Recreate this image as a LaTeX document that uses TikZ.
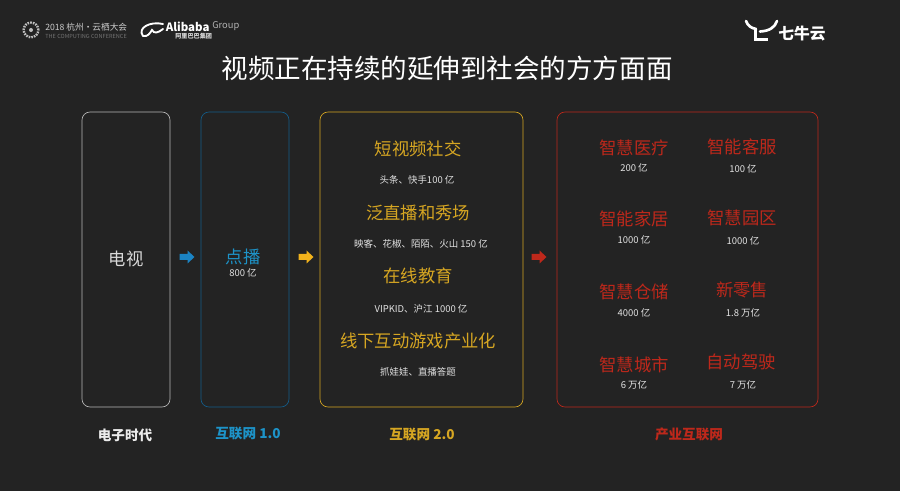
\documentclass[tikz,border=0pt]{standalone}
\usepackage{fontspec}
\setmainfont{Noto Sans CJK SC}
\definecolor{bgc}{HTML}{232323}
\definecolor{bluec}{HTML}{1B84C4}
\definecolor{cyanc}{HTML}{1D93C8}
\definecolor{yelc}{HTML}{D6A622}
\definecolor{arrowy}{HTML}{F2B31C}
\definecolor{redc}{HTML}{BE281B}
\definecolor{txtc}{HTML}{E2E2E2}
\tikzset{
  panel/.style={draw=#1,rounded corners=6pt,line width=0.5pt,fill=none},
  big/.style={text=#1,font=\fontsize{13}{15}\selectfont,inner sep=0pt},
  small/.style={text=txtc,font=\fontsize{7.1}{8}\selectfont,inner sep=0pt},
  era/.style={text=#1,font=\bfseries\fontsize{10.2}{12}\selectfont,inner sep=0pt},
  logo/.style={text=#1,inner sep=0pt},
  pics/flowarrow/.style={code={
    \fill[#1] (-7.5,-3) -- (0.5,-3) -- (0.5,-6.5) -- (7.5,0) -- (0.5,6.5) -- (0.5,3) -- (-7.5,3) -- cycle;
  }}
}
\begin{document}
\begin{tikzpicture}[x=0.75pt,y=-0.75pt]
\useasboundingbox (0,0) rectangle (900,491);
\fill[bgc] (0,0) rectangle (900,491);
% header logos
\node[draw=white!75!black,dashed,dash pattern=on 1.2pt off 0.8pt,circle,line width=1.8pt,minimum size=11pt,inner sep=0pt] (conf) at (31,30) {};
\node[fill=white!75!black,circle,minimum size=3pt,inner sep=0pt] (confc) at (31,30) {};
\node[logo=white!80!black,font=\fontsize{6.5}{7}\selectfont,anchor=west] (conft) at (45,27.5) {2018 杭州·云栖大会};
\node[logo=white!45!black,font=\fontsize{4.2}{5}\selectfont,anchor=west] (confs) at (45,36) {THE COMPUTING CONFERENCE};
\draw[white,line width=1.4pt,line cap=round] (143,36) .. controls (137,28) and (150,21) .. (163,24);
\draw[white,line width=1.4pt,line cap=round] (143,36) .. controls (148,37) and (150,33) .. (152,30) .. controls (154,34) and (158,33) .. (163,29);
\node[logo=white,font=\bfseries\fontsize{8.6}{9}\selectfont,anchor=west] (ali) at (165.5,26.5) {Alibaba};
\node[logo=white!70!black,font=\fontsize{7}{9}\selectfont,anchor=west] (grp) at (212,26.5) {Group};
\node[logo=white!85!black,font=\bfseries\fontsize{4.6}{5}\selectfont,anchor=west] (alic) at (175,36) {阿里巴巴集团};
% qiniu logo
\draw[white,line width=2pt,line cap=round] (746,21) .. controls (748,26) and (751,28) .. (756,29);
\draw[white,line width=2pt,line cap=round] (777,21) .. controls (775,27) and (770,31) .. (760,31.5);
\draw[white,line width=2.6pt] (755.5,28) -- (755.5,39.5) -- (768,39.5);
\node[logo=white,font=\bfseries\fontsize{11.8}{13}\selectfont] (qn) at (802,34) {七牛云};
% title
\node[text=white,font=\fontsize{19.9}{22}\selectfont,inner sep=0pt] (title) at (447,68) {视频正在持续的延伸到社会的方方面面};
% panels
\draw[panel=white!72!black] (82,112) rectangle (170,407);
\draw[panel=bluec!70!black] (201,112) rectangle (289,407);
\draw[panel=yelc] (320,112) rectangle (523,407);
\draw[panel=redc] (557,112) rectangle (818,407);
% arrows
\pic at (187,257) {flowarrow=bluec};
\pic at (306,257) {flowarrow=arrowy};
\pic at (539,257) {flowarrow=redc};
% panel 1, 2
\node[big=white!85!black] (tv) at (126,259) {电视};
\node[big=cyanc] (db) at (243,257) {点播};
\node[small] (dbs) at (243,273) {800 亿};
% panel 3
\node[big=yelc] (y1) at (418,149) {短视频社交};
\node[small] (y1s) at (417,180) {头条、快手100 亿};
\node[big=yelc] (y2) at (418,213) {泛直播和秀场};
\node[small] (y2s) at (421,244) {映客、花椒、陌陌、火山 150 亿};
\node[big=yelc] (y3) at (418,276) {在线教育};
\node[small] (y3s) at (421,309) {VIPKID、沪江 1000 亿};
\node[big=yelc] (y4) at (418,341) {线下互动游戏产业化};
\node[small] (y4s) at (418,372) {抓娃娃、直播答题};
% panel 4
\node[big=redc] (r1) at (634,148) {智慧医疗};
\node[small] (r1s) at (634,168) {200 亿};
\node[big=redc] (r2) at (742,147) {智能客服};
\node[small] (r2s) at (743,169) {100 亿};
\node[big=redc] (r3) at (634,219) {智能家居};
\node[small] (r3s) at (634,240) {1000 亿};
\node[big=redc] (r4) at (742,218) {智慧园区};
\node[small] (r4s) at (743,241) {1000 亿};
\node[big=redc] (r5) at (634,292) {智慧仓储};
\node[small] (r5s) at (634,313) {4000 亿};
\node[big=redc] (r6) at (742,290) {新零售};
\node[small] (r6s) at (743,313) {1.8 万亿};
\node[big=redc] (r7) at (634,365) {智慧城市};
\node[small] (r7s) at (634,385) {6 万亿};
\node[big=redc] (r8) at (741,362) {自动驾驶};
\node[small] (r8s) at (743,385) {7 万亿};
% era labels
\node[era=white!92!black] (e1) at (125,435) {电子时代};
\node[era=cyanc] (e2) at (248,434) {互联网 1.0};
\node[era=yelc] (e3) at (422,435) {互联网 2.0};
\node[era=redc] (e4) at (689,434) {产业互联网};
\end{tikzpicture}
\end{document}
